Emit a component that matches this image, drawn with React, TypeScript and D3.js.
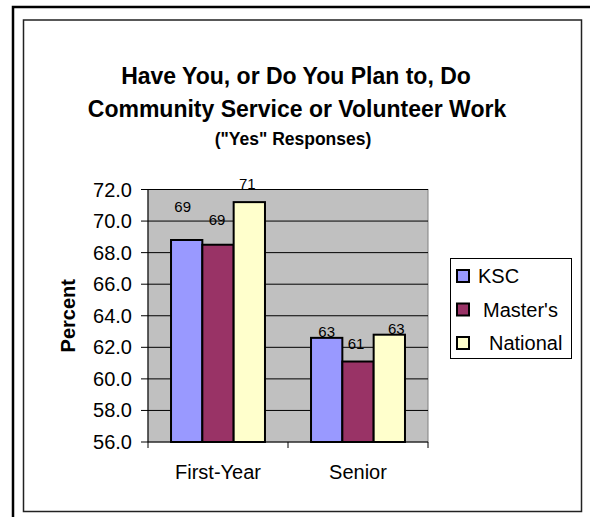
import React from 'react';
import * as d3 from 'd3';

const categories = ['First-Year', 'Senior'];
const seriesNames = ['KSC', "Master's", 'National'];
const kscValues = [68.8, 62.6];
const mastersValues = [68.5, 61.1];
const nationalValues = [71.2, 62.8];
const yTicks = [56, 58, 60, 62, 64, 66, 68, 70, 72];

const seriesColors = ['#9999FF', '#993366', '#FFFFCC'];
// Excel had the data labels dragged around by hand; keep those nudges (dx, dy from bar top)
const labelNudges = [
  [[-4, -34], [-1, -25], [-2, -19]],
  [[0, -6], [-2, -18], [7, -6]],
];
const legendTextX = [478, 483, 489];

const W = 590;
const H = 517;
const plot = { left: 148, right: 428, top: 189.5, bottom: 442 };
const font = 'Arial, "Liberation Sans", sans-serif';

export default function App() {
  const values = [kscValues, mastersValues, nationalValues];

  const x0 = d3.scaleBand<string>().domain(categories).range([plot.left, plot.right]).padding(0);
  const x1 = d3
    .scaleBand<string>()
    .domain(seriesNames)
    .range([0, x0.bandwidth()])
    .paddingInner(0)
    .paddingOuter(0.735);
  const y = d3.scaleLinear().domain([56, 72]).range([plot.bottom, plot.top]);
  const fmt = d3.format('.1f');

  const legendY = d3.scalePoint<string>().domain(seriesNames).range([276, 343]);

  return (
    <svg
      width={W}
      height={H}
      style={{ position: 'fixed', left: 0, top: 0, background: '#fff' }}
      fontFamily={font}
    >
      {/* page frame + chart area frame */}
      <path d={`M13,${H} V7 H${W}`} fill="none" stroke="#000" strokeWidth={2.5} />
      <rect x={23.5} y={20} width={558} height={491.5} fill="#fff" stroke="#222" strokeWidth={1.5} />

      {/* title */}
      <g textAnchor="middle" fontWeight="bold" fill="#000">
        <text x={296} y={84} fontSize={23}>Have You, or Do You Plan to, Do</text>
        <text x={297} y={117} fontSize={23}>Community Service or Volunteer Work</text>
        <text x={293} y={145} fontSize={17.5}>("Yes" Responses)</text>
      </g>

      {/* plot area */}
      <rect
        x={plot.left}
        y={plot.top}
        width={plot.right - plot.left}
        height={plot.bottom - plot.top}
        fill="#C0C0C0"
        stroke="#808080"
        strokeWidth={1}
      />
      {yTicks.slice(1).map(t => (
        <line key={t} x1={plot.left} x2={plot.right} y1={y(t)} y2={y(t)} stroke="#000" strokeWidth={1} />
      ))}

      {/* bars */}
      {categories.map((c, ci) =>
        seriesNames.map((s, si) => {
          const v = values[si][ci];
          const bx = (x0(c) || 0) + (x1(s) || 0);
          return (
            <rect
              key={c + s}
              x={bx}
              y={y(v)}
              width={x1.bandwidth()}
              height={plot.bottom - y(v)}
              fill={seriesColors[si]}
              stroke="#000"
              strokeWidth={2}
            />
          );
        })
      )}

      {/* data labels */}
      <g fontSize={15} textAnchor="middle" fill="#000">
        {categories.map((c, ci) =>
          seriesNames.map((s, si) => {
            const v = values[si][ci];
            const cx = (x0(c) || 0) + (x1(s) || 0) + x1.bandwidth() / 2;
            const [dx, dy] = labelNudges[ci][si];
            return (
              <text key={c + s} x={cx + dx} y={y(v) + dy} dominantBaseline="central">
                {Math.round(v)}
              </text>
            );
          })
        )}
      </g>

      {/* axes */}
      <line x1={plot.left} x2={plot.left} y1={plot.top} y2={plot.bottom} stroke="#000" strokeWidth={1} />
      <line x1={plot.left} x2={plot.right} y1={plot.bottom} y2={plot.bottom} stroke="#000" strokeWidth={1} />
      {yTicks.map(t => (
        <g key={t}>
          <line x1={plot.left - 7} x2={plot.left} y1={y(t)} y2={y(t)} stroke="#000" />
          <text x={plot.left - 16} y={y(t)} fontSize={20} textAnchor="end" dominantBaseline="central">
            {fmt(t)}
          </text>
        </g>
      ))}
      {[plot.left, plot.left + x0.bandwidth(), plot.right].map(tx => (
        <line key={tx} x1={tx} x2={tx} y1={plot.bottom} y2={plot.bottom + 6} stroke="#000" />
      ))}
      {categories.map(c => (
        <text key={c} x={(x0(c) || 0) + x0.bandwidth() / 2} y={479} fontSize={20} textAnchor="middle">
          {c}
        </text>
      ))}
      <text
        transform={`translate(75, ${(plot.top + plot.bottom) / 2}) rotate(-90)`}
        textAnchor="middle"
        fontSize={20}
        fontWeight="bold"
      >
        Percent
      </text>

      {/* legend */}
      <rect x={450.5} y={258.5} width={121} height={100} fill="#fff" stroke="#000" strokeWidth={1} />
      {seriesNames.map((s, i) => {
        const ly = legendY(s) || 0;
        return (
          <g key={s}>
            <rect x={457} y={ly - 6} width={12} height={12} fill={seriesColors[i]} stroke="#000" strokeWidth={2} />
            <text x={legendTextX[i]} y={ly} fontSize={20} dominantBaseline="central">
              {s}
            </text>
          </g>
        );
      })}
    </svg>
  );
}
